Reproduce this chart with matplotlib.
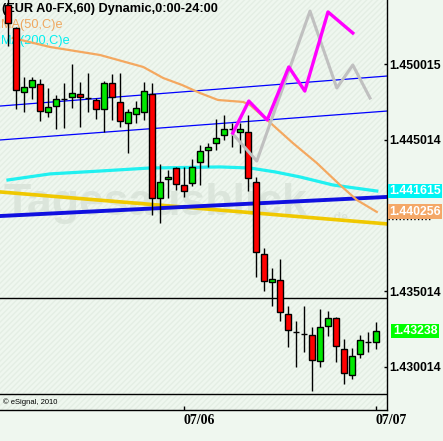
import matplotlib
matplotlib.use("Agg")
import matplotlib.pyplot as plt
from matplotlib.patches import Rectangle

# hourly EUR/USD candles, index 23 = 07/06 00:00, index 47 = 07/07 00:00
opens  = [1.45391, 1.45239, 1.44817, 1.44850, 1.44870, 1.44685, 1.44724, 1.44771, 1.44784, 1.44804,
          1.44777, 1.44764, 1.44705, 1.44876, 1.44751, 1.44612, 1.44672, 1.44685, 1.44804, 1.44117,
          1.44243, 1.44315, 1.44203, 1.44216, 1.44355, 1.44434, 1.44480, 1.44533, 1.44573, 1.44553,
          1.44553, 1.44223, 1.43748, 1.43563, 1.43576, 1.43352, 1.43233, 1.43220, 1.43213, 1.43041,
          1.43272, 1.43325, 1.43121, 1.42949, 1.43088, 1.43167, 1.43167]
highs  = [1.45430, 1.45245, 1.44916, 1.44916, 1.44903, 1.44843, 1.44797, 1.44876, 1.45002, 1.44883,
          1.44942, 1.44777, 1.44889, 1.44936, 1.44942, 1.44705, 1.44757, 1.44883, 1.44876, 1.44342,
          1.44302, 1.44322, 1.44322, 1.44375, 1.44467, 1.44480, 1.44639, 1.44665, 1.44612, 1.44612,
          1.44665, 1.44256, 1.43787, 1.43655, 1.43715, 1.43404, 1.43305, 1.43404, 1.43266, 1.43385,
          1.43371, 1.43330, 1.43187, 1.43127, 1.43213, 1.43233, 1.43299]
lows   = [1.45120, 1.44705, 1.44685, 1.44771, 1.44625, 1.44652, 1.44573, 1.44579, 1.44711, 1.44586,
          1.44685, 1.44639, 1.44553, 1.44632, 1.44586, 1.44414, 1.44612, 1.44632, 1.44005, 1.43952,
          1.44117, 1.44170, 1.44124, 1.44196, 1.44203, 1.44322, 1.44434, 1.44500, 1.44454, 1.44414,
          1.44163, 1.43596, 1.43503, 1.43404, 1.43305, 1.43134, 1.43002, 1.43101, 1.42843, 1.43002,
          1.43206, 1.43035, 1.42890, 1.42923, 1.43061, 1.43101, 1.43121]
closes = [1.45272, 1.44830, 1.44850, 1.44896, 1.44691, 1.44718, 1.44771, 1.44771, 1.44810, 1.44784,
          1.44777, 1.44705, 1.44876, 1.44784, 1.44625, 1.44685, 1.44711, 1.44823, 1.44117, 1.44223,
          1.44256, 1.44210, 1.44163, 1.44322, 1.44427, 1.44454, 1.44513, 1.44573, 1.44573, 1.44573,
          1.44249, 1.43761, 1.43569, 1.43583, 1.43365, 1.43246, 1.43233, 1.43220, 1.43048, 1.43266,
          1.43325, 1.43140, 1.42962, 1.43074, 1.43180, 1.43167, 1.43239]

# moving averages (read at a few bar positions)
ma50_x = [1.6, 6.25, 12.5, 17.9, 20.4, 22.75, 25, 27.25, 30.4, 31.25, 33.4, 36.6, 39.6, 42.5, 44.6, 47.1]
ma50_y = [1.45173, 1.45114, 1.45061, 1.44982, 1.44909, 1.44863, 1.44810, 1.44764, 1.44751, 1.44731,
          1.44632, 1.44480, 1.44348, 1.44203, 1.44104, 1.44025]
ma200_x = [1, 6.25, 12.5, 18.75, 27.5, 31.25, 34.4, 37.5, 41.6, 47.1]
ma200_y = [1.44236, 1.44276, 1.44295, 1.44315, 1.44322, 1.44315, 1.44289, 1.44256, 1.44203, 1.44163]

# trend lines, price at left and right edge
chan_upper = [1.44724, 1.44922]
chan_lower = [1.44500, 1.44691]
blue_thick = [1.43998, 1.44124]
yellow_line = [1.44157, 1.43946]
support = 1.43457

# projected paths
proj1_x = [29.1, 31.1, 33.4, 36.1, 38.1, 41.0, 44.1]
proj1_y = [1.44546, 1.44757, 1.44632, 1.44982, 1.44823, 1.45345, 1.45206]
proj2_x = [29.1, 32.1, 38.75, 42.1, 44.1, 46.25]
proj2_y = [1.44540, 1.44361, 1.45351, 1.44843, 1.44995, 1.44777]

ytick_vals = [1.450015, 1.445014, 1.435014, 1.430014]
xtick_pos = [23, 47]
xtick_labels = ["07/06", "07/07"]

bg = "#eff7ef"
W, H = 387.0, 410.0  # axes size in pixels

fig = plt.figure(figsize=(4.43, 4.41), dpi=100, facecolor=bg)
ax = fig.add_axes([0, 31 / 441, W / 443, H / 441])
ax.set_facecolor(bg)
ax.add_patch(Rectangle((0, 0), 1, 1, transform=ax.transAxes, facecolor="none",
                       edgecolor="#e4eee4", hatch="//////", lw=0, zorder=0))

xmin, xmax = 0, W / 8
ax.set_xlim(xmin, xmax)
ax.set_ylim(1.427175, 1.454240)


def axp(px, py):
    return px / W, 1 - py / H


# watermark
ax.text(*axp(4, 204), "Tagesausblick", transform=ax.transAxes, fontsize=32, fontweight="bold",
        family="Liberation Sans", color="#dbe5db", va="center", ha="left", zorder=0.5)
ax.text(*axp(330, 218), ".de", transform=ax.transAxes, fontsize=9, fontweight="bold",
        family="Liberation Sans", color="#dbe5db", va="center", ha="left", zorder=0.5)

# header texts
ax.text(*axp(2, 9), "(EUR A0-FX,60) Dynamic,0:00-24:00", transform=ax.transAxes, fontsize=9.2,
        fontweight="bold", family="Liberation Sans", va="center", ha="left", zorder=1)
ax.text(*axp(1, 25), "MA(50,C)e", transform=ax.transAxes, fontsize=9.2, color="#f0a860",
        family="Liberation Sans", va="center", ha="left", zorder=1)
ax.text(*axp(1, 41), "MA(200,C)e", transform=ax.transAxes, fontsize=9.2, color="#00f0f0",
        family="Liberation Sans", va="center", ha="left", zorder=1)

# trend lines
ax.plot([xmin, xmax], chan_upper, color="#0000ff", lw=0.9, zorder=2)
ax.plot([xmin, xmax], chan_lower, color="#0000ff", lw=0.9, zorder=2)
ax.plot([xmin, xmax], yellow_line, color="#f0c800", lw=2.6, zorder=2)
ax.plot([xmin, xmax], blue_thick, color="#1010e0", lw=2.8, zorder=2)
ax.axhline(support, color="black", lw=1, zorder=2)

# moving averages
ax.plot(ma200_x, ma200_y, color="#20f0f0", lw=2.3, zorder=2)
ax.plot(ma50_x, ma50_y, color="#f4a860", lw=1.6, zorder=2)

# candles
xs = list(range(1, len(opens) + 1))
cols = []
for o, c in zip(opens, closes):
    if c > o:
        cols.append("#00e800")
    elif c < o:
        cols.append("#ff0000")
    else:
        cols.append("black")
ax.vlines(xs, lows, highs, color="black", lw=1, zorder=3)
ax.bar(xs, [c - o for o, c in zip(opens, closes)], bottom=opens, width=0.72,
       color=cols, edgecolor="black", linewidth=1, zorder=4)

# projections
ax.plot(proj2_x, proj2_y, color="#c0c0c0", lw=2.2, zorder=5)
ax.plot(proj1_x, proj1_y, color="#ff00ff", lw=2.4, zorder=6)

# bottom strip
ax.plot([0, 1], [16 / H, 16 / H], transform=ax.transAxes, color="black", lw=1, zorder=6)
ax.text(*axp(3, 402), "\u00a9 eSignal, 2010", transform=ax.transAxes, fontsize=5.5,
        family="Liberation Sans", va="center", ha="left", zorder=6)

# axes frame
for s in ["left", "top"]:
    ax.spines[s].set_visible(False)
for s in ["right", "bottom"]:
    ax.spines[s].set_color("black")
    ax.spines[s].set_linewidth(1)

ax.yaxis.tick_right()
ax.set_yticks(ytick_vals)
ax.set_yticklabels([f"{v:.6f}" for v in ytick_vals], fontsize=8.8, fontweight="bold",
                   family="Liberation Sans")
ax.tick_params(axis="y", direction="in", length=2, pad=1.5, width=1)

ax.set_xticks(xtick_pos)
ax.set_xticklabels(xtick_labels, fontsize=10, fontweight="bold", family="Liberation Serif")
for lab in ax.get_xticklabels():
    lab.set_horizontalalignment("left")
ax.tick_params(axis="x", direction="in", length=3, pad=3, width=1)

# last value boxes
yt = ax.get_yaxis_transform()
ax.plot([1.003, 1.11], [1.43979, 1.43979], transform=yt, color="black", lw=1, ls=":",
        clip_on=False, zorder=7)
ax.text(389 / W, ma200_y[-1], f"{1.441615:.6f}", transform=yt, fontsize=8.8, fontweight="bold",
        family="Liberation Sans", color="white", va="center", ha="left", clip_on=False, zorder=8,
        bbox=dict(boxstyle="square,pad=0.12", facecolor="#00f4f4", edgecolor="none"))
ax.text(389 / W, ma50_y[-1], f"{1.440256:.6f}", transform=yt, fontsize=8.8, fontweight="bold",
        family="Liberation Sans", color="white", va="center", ha="left", clip_on=False, zorder=8,
        bbox=dict(boxstyle="square,pad=0.12", facecolor="#f4a868", edgecolor="none"))
ax.text(415 / W, closes[-1], "1.43238", transform=yt, fontsize=8.8, fontweight="bold",
        family="Liberation Sans", color="white", va="center", ha="center", clip_on=False, zorder=8,
        bbox=dict(boxstyle="square,pad=0.12", facecolor="#00ff00", edgecolor="none"))

fig.savefig("out.png", dpi=100, facecolor=bg)
